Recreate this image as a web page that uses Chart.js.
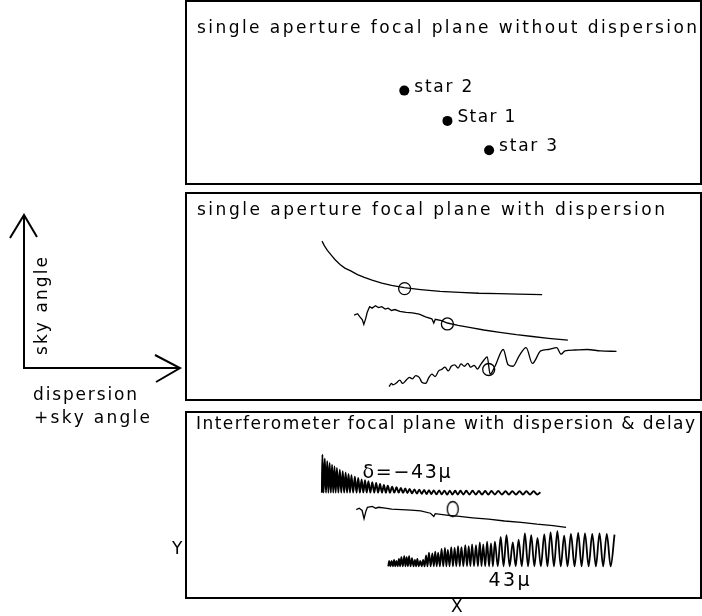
<!DOCTYPE html>
<html>
<head>
<meta charset="utf-8">
<script src="https://cdn.jsdelivr.net/npm/chart.js@4.4.1/dist/chart.umd.min.js"></script>
<style>
  html, body { margin: 0; padding: 0; background: #fff; }
  #page { position: relative; width: 702px; height: 616px; overflow: hidden; }
  #page canvas { position: absolute; }
</style>
</head>
<body>
<div id="page">
  <canvas id="notes" width="702" height="616" style="left:0;top:0"></canvas>
  <canvas id="plot1" width="517" height="185" style="left:185px;top:0"></canvas>
  <canvas id="plot2" width="517" height="209" style="left:185px;top:192px"></canvas>
  <canvas id="plot3" width="517" height="188" style="left:185px;top:411px"></canvas>
</div>
<script>
// x = dispersion direction, y = sky angle (same arbitrary units in every panel)

let panelTitles = [
    'single aperture focal plane without dispersion',
    'single aperture focal plane with dispersion',
    'Interferometer focal plane with dispersion & delay'
];

// panel 1: the three stars
let starNames = ['star 2', 'Star 1', 'star 3'];
let starX = [43.5, 52.3, 60.8];
let starY = [18.7, 12.3, 6.1];

// panel 2: dispersed spectra + position of the star image (circles)
let star2X = [26.5, 27.0, 27.6, 28.4, 29.2, 30.2, 31.2, 32.4, 33.8, 35.2, 36.8, 38.8, 40.8, 43.4, 46.8, 50.8, 54.8, 58.8, 62.8, 66.8, 71.8];
let star2Y = [32.6, 31.6, 30.6, 29.6, 28.6, 27.6, 26.8, 26.2, 25.4, 24.8, 24.2, 23.6, 23.1, 22.6, 22.2, 21.8, 21.6, 21.4, 21.3, 21.2, 21.1];

let star1X = [33.1, 33.8, 34.3, 34.8, 35.1, 35.5, 35.8, 36.3, 36.8, 37.5, 38.1, 38.8, 39.5, 40.1, 40.8, 41.5, 42.5, 43.8, 45.1, 46.5, 47.8, 49.1, 49.5, 49.8, 51.1, 52.3, 54.5, 57.1, 59.8, 63.1, 66.5, 69.8, 73.1, 77.1];
let star1Y = [16.7, 17.0, 16.3, 15.7, 14.7, 16.0, 17.3, 18.5, 18.2, 18.7, 18.3, 18.5, 18.0, 18.2, 17.7, 17.9, 17.5, 17.3, 17.2, 16.9, 16.3, 15.9, 15.0, 15.8, 15.5, 15.0, 14.5, 14.0, 13.5, 13.0, 12.5, 12.1, 11.7, 11.3];

let star3X = [40.3, 40.8, 41.1, 41.8, 42.5, 43.1, 43.8, 44.5, 45.1, 45.8, 46.5, 47.1, 47.8, 48.5, 49.1, 49.8, 50.5, 51.1, 51.8, 52.5, 53.1, 53.8, 54.5, 55.1, 55.8, 56.5, 57.1, 57.8, 58.5, 59.1, 59.8, 60.5, 61.1, 62.1, 63.8, 64.8, 65.8, 67.1, 68.5, 69.8, 71.5, 73.1, 74.8, 75.7, 76.5, 78.5, 81.1, 83.8, 87.1];
let star3Y = [1.3, 2.0, 1.7, 2.1, 2.7, 2.0, 2.7, 3.3, 3.0, 3.7, 3.3, 2.2, 2.0, 3.3, 4.0, 3.5, 4.7, 5.0, 5.5, 4.7, 5.7, 6.0, 5.3, 6.2, 5.7, 6.3, 5.5, 5.9, 5.1, 6.0, 7.0, 7.7, 4.0, 5.7, 9.3, 6.0, 5.7, 8.0, 9.7, 6.3, 9.0, 9.3, 9.7, 8.3, 9.0, 9.2, 9.3, 9.0, 8.9];

let markX = [43.5, 52.3, 60.8];
let markY = [22.4, 14.8, 5.0];

// panel 3: fringes at delay -43 mu (star 2), zero delay (star 1), +43 mu (star 3)
let fringeAPeakX = [26.5, 27.0, 27.5, 28.0, 28.5, 29.0, 29.5, 30.1, 30.7, 31.3, 31.9, 32.5, 33.2, 33.9, 34.6, 35.3, 36.0, 36.8, 37.6, 38.4, 39.2, 40.0, 40.9, 41.8, 42.7, 43.6, 44.5, 45.5, 46.5, 47.5, 48.5, 49.5, 50.6, 51.7, 52.8, 53.9, 55.0, 56.2, 57.5, 58.8, 60.1, 61.4, 62.8, 64.3, 65.7, 67.2, 68.6, 70.1, 71.5];
let fringeAPeakY = [29.6, 28.7, 28.2, 27.8, 27.4, 27.0, 26.7, 26.3, 26.0, 25.7, 25.4, 25.1, 24.8, 24.5, 24.2, 24.0, 23.8, 23.6, 23.4, 23.2, 23.0, 22.8, 22.6, 22.5, 22.35, 22.2, 22.1, 22.0, 21.95, 21.9, 21.85, 21.8, 21.8, 21.75, 21.75, 21.7, 21.7, 21.7, 21.7, 21.65, 21.65, 21.65, 21.65, 21.6, 21.6, 21.6, 21.6, 21.6, 21.4];
let fringeATroughX = [26.4, 26.75, 27.25, 27.75, 28.25, 28.75, 29.25, 29.8, 30.4, 31.0, 31.6, 32.2, 32.85, 33.55, 34.25, 34.95, 35.65, 36.4, 37.2, 38.0, 38.8, 39.6, 40.45, 41.35, 42.25, 43.15, 44.05, 45.0, 46.0, 47.0, 48.0, 49.0, 50.05, 51.15, 52.25, 53.35, 54.45, 55.6, 56.85, 58.15, 59.45, 60.75, 62.1, 63.55, 65.0, 66.45, 67.9, 69.35, 70.85];
let fringeATroughY = [21.3, 21.3, 21.3, 21.3, 21.3, 21.3, 21.3, 21.3, 21.3, 21.3, 21.3, 21.3, 21.3, 21.3, 21.3, 21.3, 21.3, 21.3, 21.3, 21.3, 21.3, 21.3, 21.3, 21.3, 21.3, 21.25, 21.2, 21.15, 21.1, 21.05, 21.0, 21.0, 20.95, 20.95, 20.9, 20.9, 20.9, 20.9, 20.9, 20.9, 20.9, 20.9, 20.9, 20.9, 20.9, 20.9, 20.9, 20.9, 20.9];

let zeroX = [33.5, 34.1, 34.7, 35.1, 35.5, 35.8, 36.8, 37.5, 38.1, 39.5, 40.8, 42.8, 44.8, 46.8, 48.8, 49.5, 49.8, 52.1, 54.8, 57.5, 60.8, 64.1, 67.5, 70.8, 74.1, 76.8];
let zeroY = [17.6, 17.9, 17.4, 15.6, 17.3, 18.1, 18.3, 17.9, 18.1, 17.9, 17.7, 17.6, 17.5, 17.3, 16.8, 16.1, 16.7, 16.4, 16.1, 15.8, 15.5, 15.1, 14.8, 14.4, 14.1, 13.7];
let zeroMark = { x: 53.4, y: 17.7 };

let fringeBPeakX = [40.3, 40.8, 41.3, 41.8, 42.3, 42.8, 43.4, 43.9, 44.4, 45.0, 45.6, 46.1, 46.7, 47.3, 47.9, 48.5, 49.2, 49.8, 50.4, 51.1, 51.8, 52.4, 53.1, 53.8, 54.5, 55.2, 56.0, 56.7, 57.4, 58.2, 59.0, 59.7, 60.5, 61.3, 62.1, 63.3, 64.5, 65.8, 67.0, 68.3, 69.6, 70.9, 72.3, 73.6, 75.0, 76.4, 77.8, 79.3, 80.7, 82.2, 83.7, 85.2, 86.8];
let fringeBPeakY = [6.4, 6.4, 6.6, 6.4, 6.8, 7.2, 7.4, 7.2, 7.4, 7.0, 6.6, 6.8, 6.4, 6.6, 7.6, 8.2, 8.0, 8.4, 8.2, 9.0, 9.2, 8.8, 9.4, 9.2, 9.6, 9.4, 9.8, 9.6, 10.0, 9.8, 10.4, 10.0, 10.6, 10.2, 10.6, 11.6, 12.0, 10.4, 11.0, 12.4, 12.0, 11.4, 12.2, 12.6, 12.9, 11.9, 12.3, 12.5, 12.4, 12.3, 12.4, 12.3, 12.1];
let fringeBTroughX = [40.1, 40.55, 41.05, 41.55, 42.05, 42.55, 43.1, 43.65, 44.15, 44.7, 45.3, 45.85, 46.4, 47.0, 47.6, 48.2, 48.85, 49.5, 50.1, 50.75, 51.45, 52.1, 52.75, 53.45, 54.15, 54.85, 55.6, 56.35, 57.05, 57.8, 58.6, 59.35, 60.1, 60.9, 61.7, 62.7, 63.9, 65.15, 66.4, 67.65, 68.95, 70.25, 71.6, 72.95, 74.3, 75.7, 77.1, 78.55, 80.0, 81.45, 82.95, 84.45, 86.0];
let fringeBFloor = 5.2;

let FONT = '"DejaVu Sans", "Liberation Sans", sans-serif';

// draws text letter by letter so it spans the wanted width
let drawSpaced = (ctx, text, x, y, size, width) => {
    ctx.font = `${size}px ${FONT}`;
    let chars = [...text];
    let widths = chars.map(c => ctx.measureText(c).width);
    let natural = widths.reduce((a, b) => a + b, 0);
    let gap = chars.length > 1 ? (width - natural) / (chars.length - 1) : 0;
    chars.forEach((c, i) => {
        ctx.fillText(c, x, y);
        x += widths[i] + gap;
    });
};

let pairs = (xs, ys) => xs.map((x, i) => ({ x: x, y: ys[i] }));

// troughs and peaks alternate along the fringe
let fringe = (tx, ty, px, py) => {
    let pts = [];
    for (let i = 0; i < px.length; i++) {
        if (i < tx.length) pts.push({ x: tx[i], y: ty[i] });
        pts.push({ x: px[i], y: py[i] });
    }
    return pts;
};

let curve = (data, extra) => Object.assign({
    data: data, showLine: true, borderColor: '#000', borderWidth: 1.3,
    pointRadius: 0, tension: 0
}, extra || {});

let framePlugin = {
    id: 'frame',
    afterDatasetsDraw(chart, args, opts) {
        let ctx = chart.ctx;
        ctx.save();
        ctx.strokeStyle = '#000';
        ctx.lineWidth = 2;
        ctx.strokeRect(1, 1, chart.width - 2, chart.height - 2);
        ctx.fillStyle = '#000';
        ctx.textBaseline = 'alphabetic';
        (opts.texts || []).forEach(t => {
            let x = t.left, y = t.base;
            if (t.x !== undefined) {
                x = chart.scales.x.getPixelForValue(t.x) + (t.dx || 0);
                y = chart.scales.y.getPixelForValue(t.y) + (t.dy || 0);
            }
            drawSpaced(ctx, t.text, x, y, t.size, t.width);
        });
        ctx.restore();
    }
};

let panelOptions = (yMax, texts) => ({
    responsive: false,
    animation: false,
    events: [],
    layout: { padding: 0 },
    plugins: {
        legend: { display: false },
        tooltip: { enabled: false },
        frame: { texts: texts }
    },
    scales: {
        x: { type: 'linear', display: false, min: -0.2, max: 103.2 },
        y: { type: 'linear', display: false, min: -0.2, max: yMax }
    }
});

// small ellipse used as the image marker in the interferometer panel
let ellipseMark = document.createElement('canvas');
ellipseMark.width = 14; ellipseMark.height = 18;
let ectx = ellipseMark.getContext('2d');
ectx.strokeStyle = '#000'; ectx.lineWidth = 1.3;
ectx.beginPath(); ectx.ellipse(7, 9, 5.5, 7.5, 0, 0, Math.PI * 2); ectx.stroke();

// PANEL 1
let starLabels = starNames.map((n, i) => ({ text: n, x: starX[i], y: starY[i], dx: 10, dy: 1, size: 17, width: 58 }));
new Chart(document.getElementById('plot1'), {
    type: 'scatter',
    data: { datasets: [{
        data: pairs(starX, starY), pointRadius: 5, backgroundColor: '#000', borderWidth: 0
    }] },
    options: panelOptions(36.8, [{ text: panelTitles[0], left: 12, base: 33, size: 17, width: 500 }].concat(starLabels)),
    plugins: [framePlugin]
});

// PANEL 2
new Chart(document.getElementById('plot2'), {
    type: 'scatter',
    data: { datasets: [
        curve(pairs(star2X, star2Y), { label: 'star 2' }),
        curve(pairs(star1X, star1Y), { label: 'Star 1' }),
        curve(pairs(star3X, star3Y), { label: 'star 3', cubicInterpolationMode: 'monotone' }),
        { data: pairs(markX, markY), pointRadius: 6, borderColor: '#000', borderWidth: 1.3, backgroundColor: 'rgba(0,0,0,0)' }
    ] },
    options: panelOptions(41.6, [{ text: panelTitles[1], left: 12, base: 23, size: 17, width: 468 }]),
    plugins: [framePlugin]
});

// PANEL 3
new Chart(document.getElementById('plot3'), {
    type: 'scatter',
    data: { datasets: [
        curve(fringe(fringeATroughX, fringeATroughY, fringeAPeakX, fringeAPeakY), { borderWidth: 1.9, cubicInterpolationMode: 'monotone' }),
        curve(pairs(zeroX, zeroY)),
        curve(fringe(fringeBTroughX, fringeBTroughX.map(() => fringeBFloor), fringeBPeakX, fringeBPeakY), { borderWidth: 1.8, cubicInterpolationMode: 'monotone' }),
        { data: [zeroMark], pointStyle: ellipseMark, pointRadius: 7 }
    ] },
    options: panelOptions(37.4, [
        { text: panelTitles[2], left: 11, base: 18, size: 17, width: 499 },
        { text: 'δ=−43μ', x: 34.8, y: 24.6, size: 19, width: 88 },
        { text: '43μ', x: 60.8, y: 0.8, size: 19, width: 41 }
    ]),
    plugins: [framePlugin]
});

// direction arrows and axis names outside the panels
let cargarNotas = () => {
    let ctx = document.getElementById('notes').getContext('2d');
    ctx.strokeStyle = '#000';
    ctx.fillStyle = '#000';
    ctx.lineWidth = 2;
    ctx.beginPath();
    ctx.moveTo(24, 215); ctx.lineTo(24, 368); ctx.lineTo(180, 368);
    ctx.moveTo(10, 238); ctx.lineTo(24, 215); ctx.lineTo(37, 237);
    ctx.moveTo(155, 355); ctx.lineTo(180, 368); ctx.lineTo(156, 382);
    ctx.stroke();

    drawSpaced(ctx, 'dispersion', 33, 400, 17, 104);
    drawSpaced(ctx, '+sky angle', 34, 423, 17, 116);
    drawSpaced(ctx, 'Y', 172, 554, 17, 11);
    drawSpaced(ctx, 'X', 451, 612, 17, 11);

    ctx.save();
    ctx.translate(47, 355);
    ctx.rotate(-Math.PI / 2);
    drawSpaced(ctx, 'sky angle', 0, 0, 17, 98);
    ctx.restore();
};

cargarNotas();
</script>
</body>
</html>
